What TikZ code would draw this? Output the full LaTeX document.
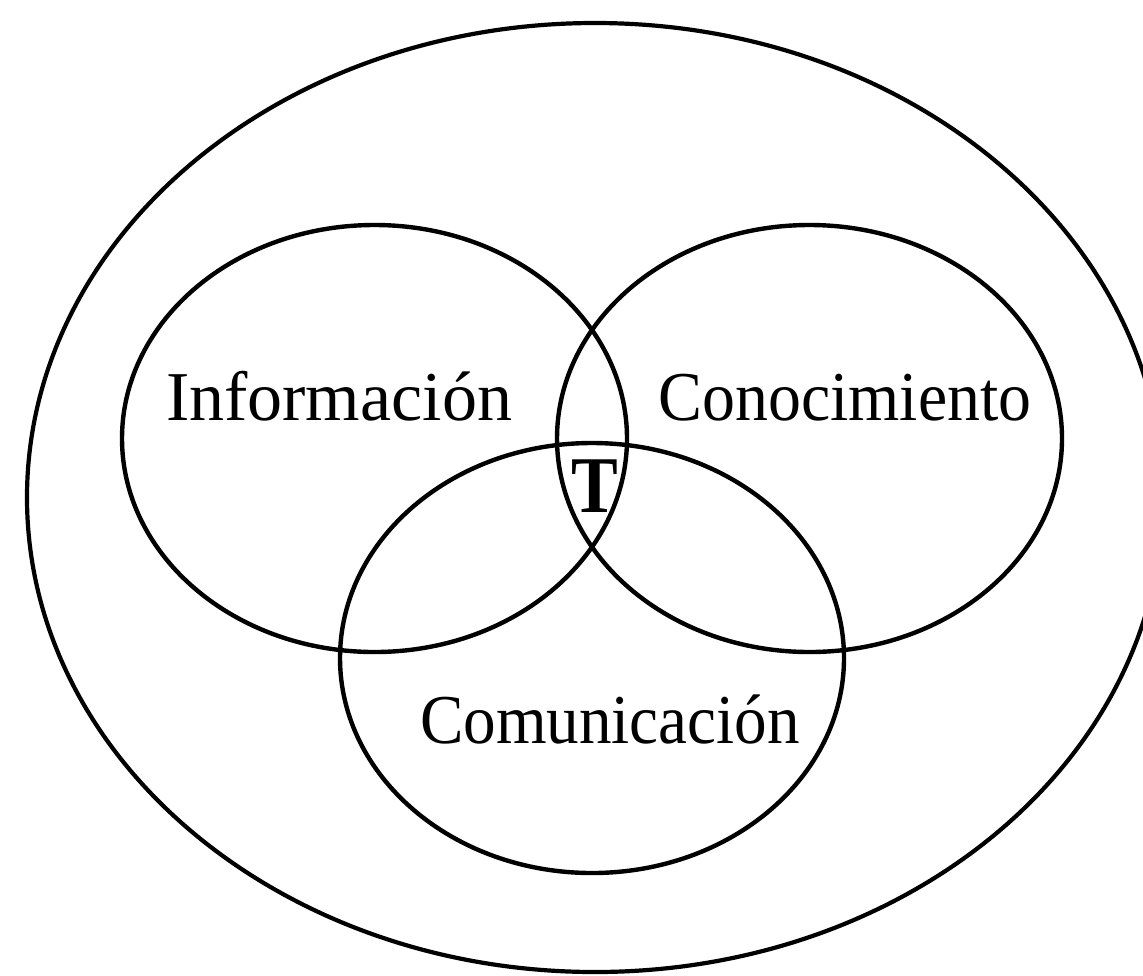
\documentclass[tikz,border=0pt]{standalone}
\usepackage{fontspec}
\setmainfont{Liberation Serif}
\usetikzlibrary{shapes.geometric}
\tikzset{
  setring/.style={ellipse, draw=black, line width=2.2pt, inner sep=0pt, minimum width=252.5pt, minimum height=213.5pt},
  outerring/.style={ellipse, draw=black, line width=2.1pt, inner sep=0pt, minimum width=568pt, minimum height=474.5pt},
  setlabel/.style={anchor=base, inner sep=0pt, font=\fontsize{35}{40}\selectfont},
  tlabel/.style={anchor=base, inner sep=0pt, font=\bfseries\fontsize{35}{40}\selectfont}
}
\begin{document}
\begin{tikzpicture}[x=0.5pt, y=-0.5pt]
\useasboundingbox (0,0) rectangle (1143,975);
\clip (0,0) rectangle (1143,975);
\node[outerring] (universe) at (595,497.5) {};
\node[setring] (info) at (374.5,438.5) {};
\node[setring] (conoc) at (809.5,438.5) {};
\node[setring, minimum width=252pt, minimum height=215pt] (comun) at (592,658) {};
\node[setlabel] (infolabel) at (339,420) {Información};
\node[setlabel] (conoclabel) at (845,420) {\scalebox{0.94}[1]{Conocimiento}};
\node[setlabel] (comunlabel) at (610,743) {\scalebox{0.93}[1]{Comunicación}};
\node[tlabel] (tlabel) at (595,512) {\scalebox{1}[1.15]{T}};
\end{tikzpicture}
\end{document}
